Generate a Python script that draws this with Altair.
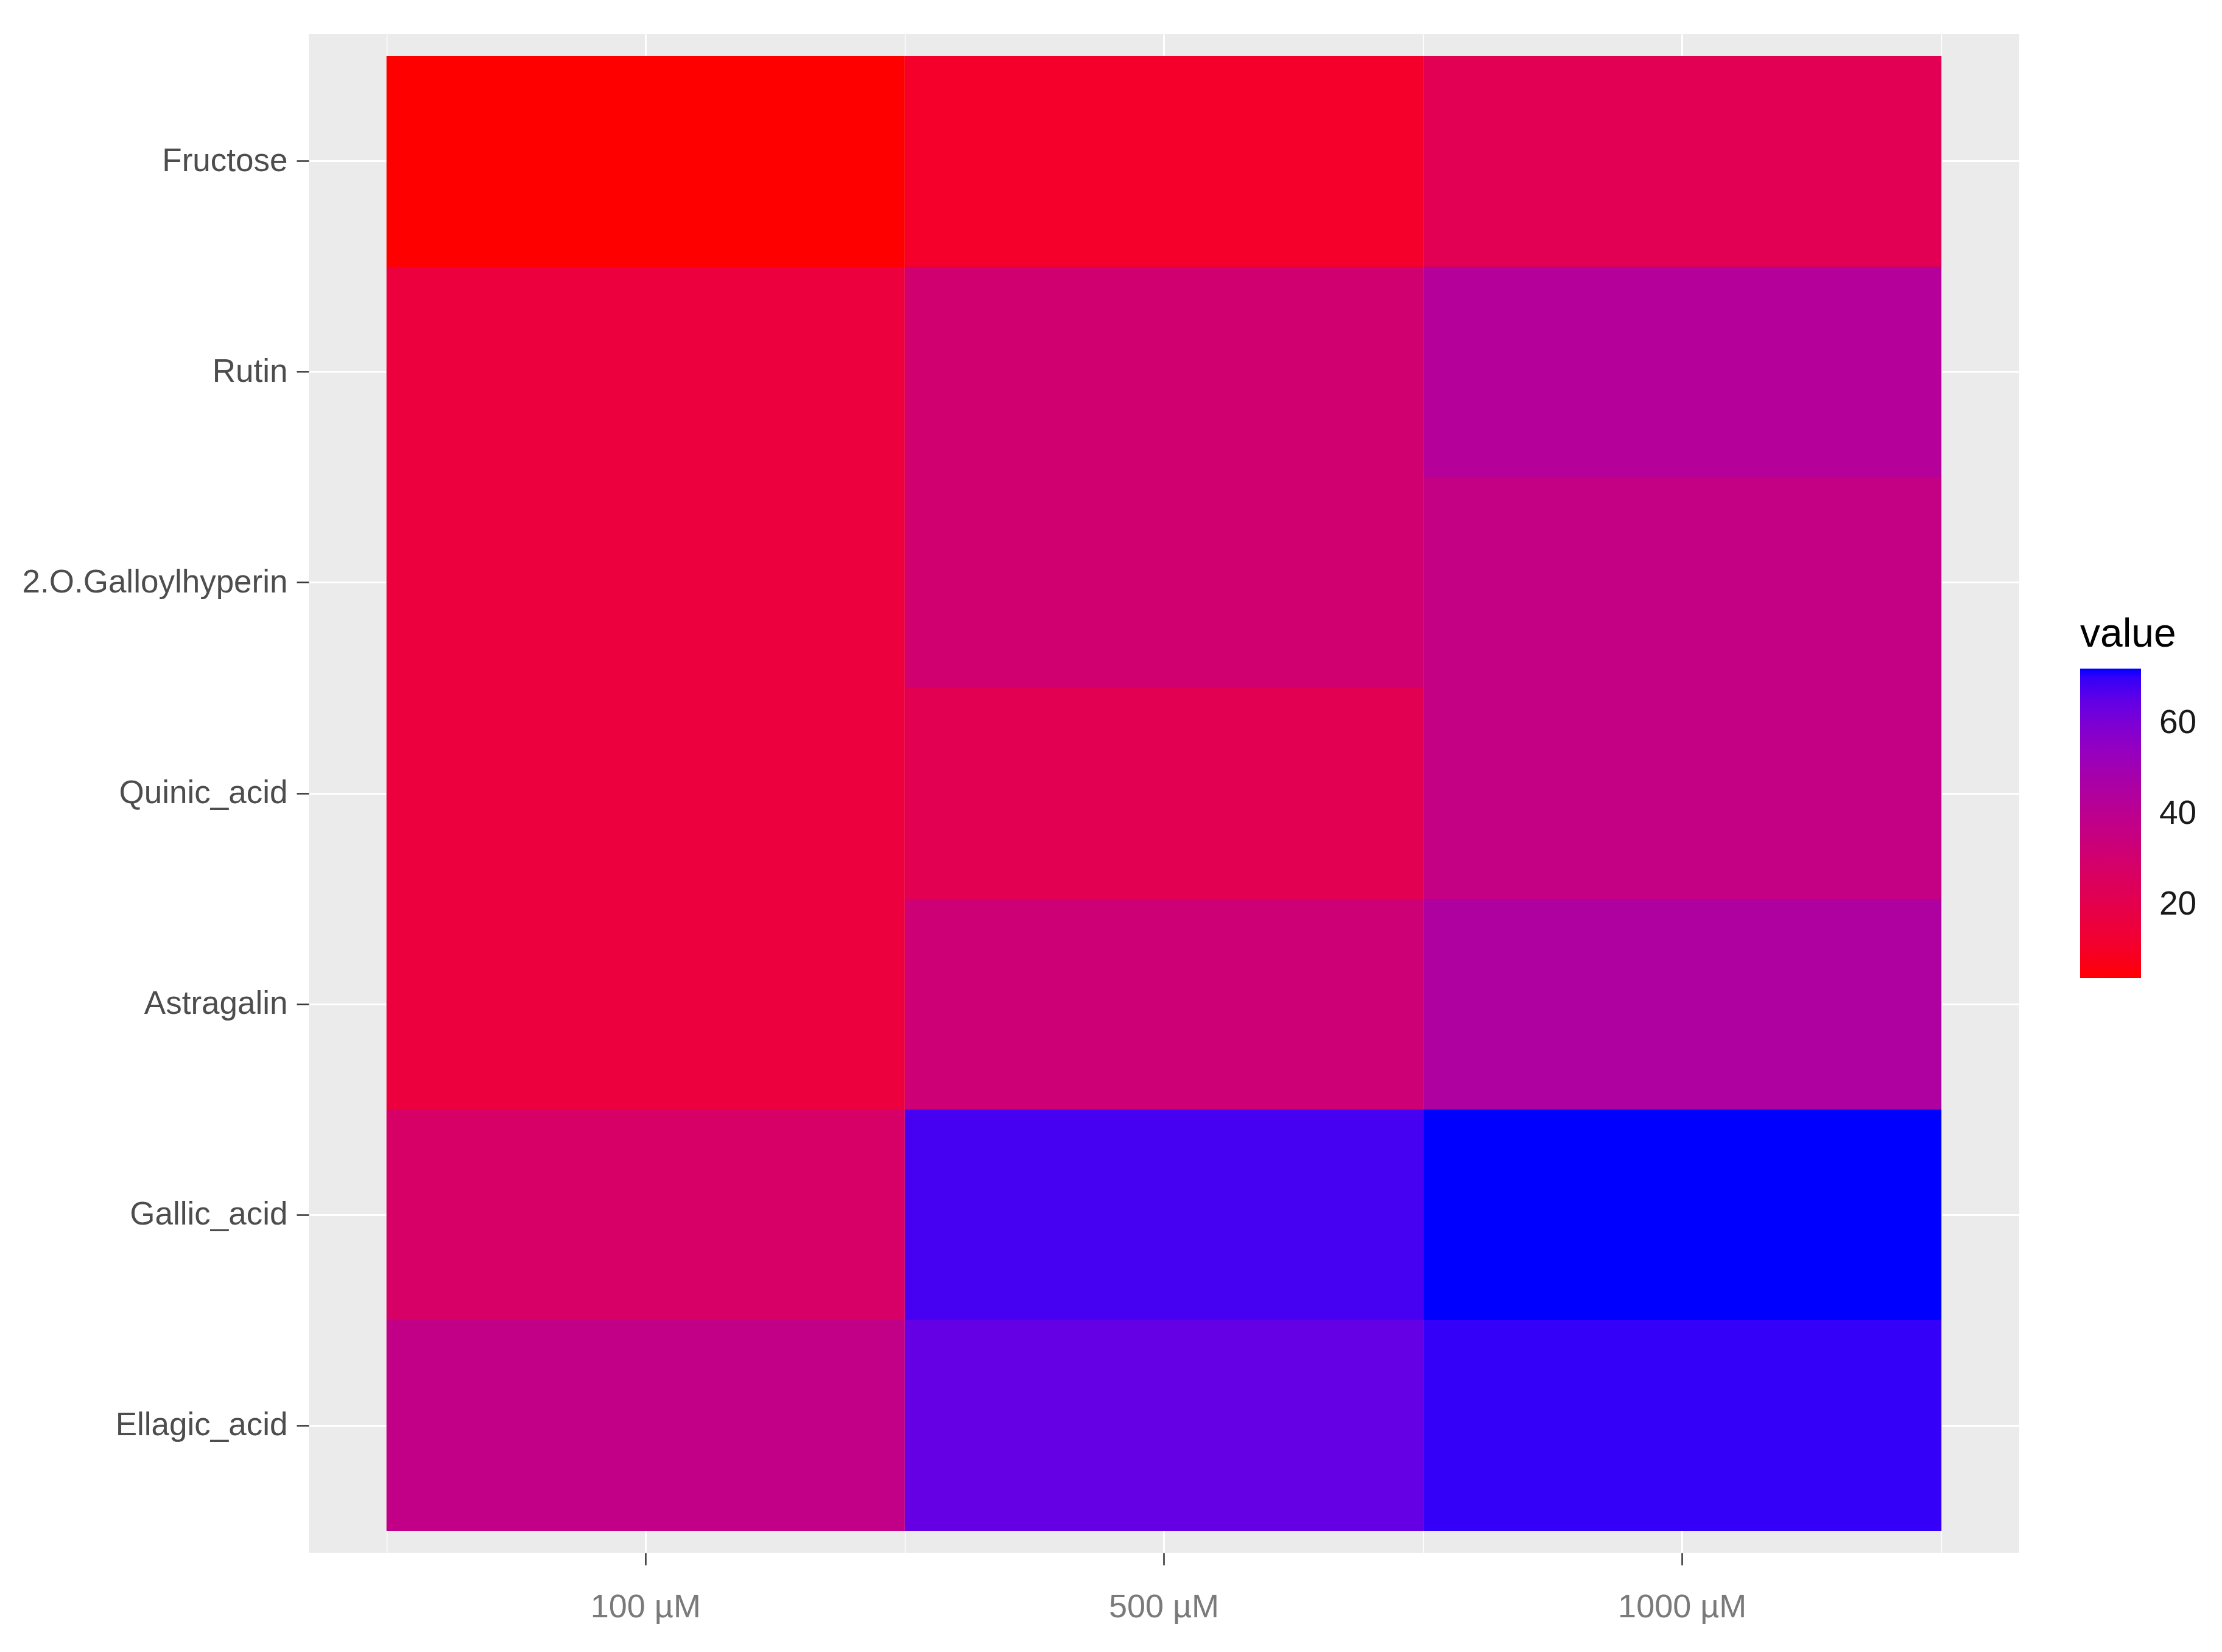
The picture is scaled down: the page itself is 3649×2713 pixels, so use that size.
import altair as alt
import pandas as pd

compounds = ["Fructose", "Rutin", "2.O.Galloylhyperin", "Quinic_acid",
             "Astragalin", "Gallic_acid", "Ellagic_acid"]
doses = ["100 µM", "500 µM", "1000 µM"]
v100 = [3.7, 15.5, 15.5, 15.5, 15.5, 27.5, 37.5]
v500 = [10.5, 31.0, 31.0, 21.5, 32.5, 68.5, 64.5]
v1000 = [22.0, 43.0, 36.5, 36.5, 45.0, 72.0, 70.0]
legend_ticks = [20, 40, 60]

rows = []
for dose, vals in zip(doses, [v100, v500, v1000]):
    for c, v in zip(compounds, vals):
        rows.append({"compound": c, "dose": dose, "value": v})
df = pd.DataFrame(rows)

FONT = "Liberation Sans"
xscale = alt.Scale(domain=doses, paddingInner=0, paddingOuter=0.15)
yscale = alt.Scale(domain=compounds, paddingInner=0, paddingOuter=0.104)

base = alt.Chart(df)

grid = base.mark_rect(opacity=0).encode(
    x=alt.X("dose:N", scale=xscale,
            axis=alt.Axis(orient="top", tickBand="extent", grid=True,
                          gridColor="white", gridWidth=1.5, labels=False,
                          ticks=False, domain=False, title=None, zindex=0,
                          minExtent=0, maxExtent=0)),
)

heat = base.mark_rect().encode(
    x=alt.X("dose:N", scale=xscale,
            axis=alt.Axis(title=None, orient="bottom", bandPosition=0.5,
                          grid=True, gridColor="white", gridWidth=3, zindex=0,
                          domain=False, ticks=True, tickSize=20, tickWidth=2.5,
                          tickColor="#333333", labelFont=FONT, labelFontSize=54,
                          labelLimit=2000,
                          labelColor="#7A7A7A", labelPadding=42, labelAngle=0)),
    y=alt.Y("compound:N", scale=yscale,
            axis=alt.Axis(title=None, bandPosition=0.5, grid=True, zindex=0,
                          gridColor="white", gridWidth=3, domain=False,
                          tickSize=20, tickWidth=2.5, tickColor="#333333",
                          labelFont=FONT, labelFontSize=53, labelColor="#4D4D4D",
                          labelLimit=2000,
                          labelPadding=15, minExtent=472, maxExtent=472)),
    color=alt.Color("value:Q",
                    scale=alt.Scale(range=["#FF0000", "#0000FF"], interpolate="lab"),
                    legend=alt.Legend(orient="none", legendX=2909, legendY=954,
                                      direction="vertical", title="value",
                                      titleFont=FONT, titleFontSize=66,
                                      titleLimit=2000,
                                      titleFontWeight="normal", titleColor="#000000",
                                      titlePadding=22, titleAnchor="start",
                                      titleAlign="left", gradientLength=508,
                                      gradientThickness=100, gradientStrokeWidth=0,
                                      values=legend_ticks, labelFont=FONT,
                                      labelFontSize=55, labelColor="#1A1A1A",
                                      labelOffset=30, padding=0)),
)

chart = alt.layer(grid, heat).resolve_axis(x="independent").properties(
    width=2809, height=2494,
    padding={"left": 27, "top": 48, "right": 5, "bottom": 5},
).configure_view(fill="#EBEBEB", strokeWidth=0)

chart.save("out.html", embed_options={"renderer": "svg", "actions": False})
